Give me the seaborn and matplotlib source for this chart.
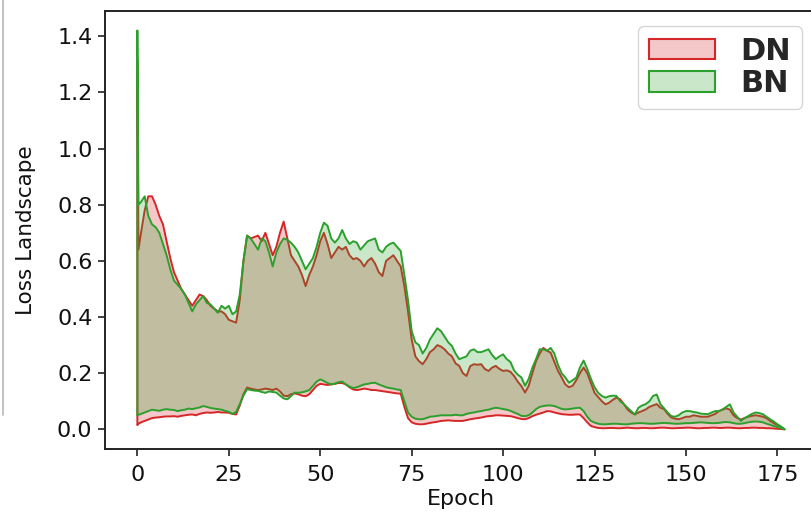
import numpy as np
import pandas as pd
import matplotlib
matplotlib.use("Agg")
import matplotlib.pyplot as plt
from matplotlib.patches import Patch
from matplotlib.colors import to_rgba
from matplotlib.lines import Line2D
import seaborn as sns

# Epoch grid: the first step is short to capture the initial spike
epochs = np.concatenate([[0.0, 0.3], np.arange(1, 178)])

# DN band (upper / lower envelope of the loss landscape)
dn_hi = [1.31, 0.64,
         0.70, 0.78, 0.83, 0.83, 0.80, 0.76, 0.73, 0.67, 0.61, 0.56,
         0.53, 0.50, 0.48, 0.46, 0.44, 0.46, 0.48, 0.475, 0.46, 0.44,
         0.43, 0.42, 0.42, 0.41, 0.39, 0.385, 0.38, 0.46, 0.60, 0.69,
         0.68, 0.685, 0.69, 0.67, 0.70, 0.66, 0.62, 0.65, 0.70, 0.74,
         0.68, 0.62, 0.60, 0.58, 0.55, 0.51, 0.55, 0.58, 0.62, 0.67,
         0.70, 0.66, 0.61, 0.63, 0.65, 0.64, 0.65, 0.62, 0.606, 0.61,
         0.60, 0.58, 0.60, 0.61, 0.59, 0.56, 0.546, 0.60, 0.61, 0.62,
         0.60, 0.58, 0.51, 0.42, 0.32, 0.26, 0.243, 0.232, 0.25, 0.275,
         0.285, 0.30, 0.295, 0.285, 0.27, 0.26, 0.235, 0.226, 0.20, 0.19,
         0.225, 0.232, 0.23, 0.232, 0.215, 0.208, 0.22, 0.226, 0.215, 0.208,
         0.21, 0.205, 0.19, 0.17, 0.154, 0.131, 0.155, 0.20, 0.243, 0.27,
         0.29, 0.28, 0.273, 0.24, 0.208, 0.185, 0.16, 0.15, 0.155, 0.175,
         0.20, 0.22, 0.20, 0.165, 0.13, 0.115, 0.10, 0.089, 0.095, 0.105,
         0.113, 0.107, 0.09, 0.071, 0.06, 0.053, 0.06, 0.065, 0.071, 0.08,
         0.085, 0.09, 0.077, 0.072, 0.055, 0.042, 0.038, 0.036, 0.04, 0.045,
         0.045, 0.05, 0.048, 0.045, 0.045, 0.045, 0.05, 0.055, 0.065, 0.07,
         0.075, 0.07, 0.05, 0.04, 0.035, 0.04, 0.045, 0.048, 0.05, 0.048,
         0.045, 0.04, 0.03, 0.022, 0.015, 0.008, 0.0]
dn_lo = [0.015, 0.02,
         0.025, 0.03, 0.035, 0.04, 0.042, 0.043, 0.045, 0.046, 0.046, 0.047,
         0.045, 0.048, 0.05, 0.052, 0.053, 0.05, 0.055, 0.058, 0.06, 0.059,
         0.06, 0.062, 0.06, 0.06, 0.059, 0.055, 0.053, 0.085, 0.125, 0.149,
         0.145, 0.142, 0.14, 0.142, 0.145, 0.143, 0.14, 0.145, 0.135, 0.12,
         0.118, 0.125, 0.128, 0.125, 0.12, 0.118, 0.125, 0.14, 0.155, 0.162,
         0.16, 0.158, 0.16, 0.162, 0.165, 0.165, 0.16, 0.15, 0.142, 0.14,
         0.142, 0.145, 0.143, 0.14, 0.14, 0.138, 0.136, 0.134, 0.132, 0.13,
         0.128, 0.127, 0.08, 0.04, 0.025, 0.02, 0.018, 0.018, 0.02, 0.023,
         0.025, 0.027, 0.03, 0.031, 0.032, 0.031, 0.03, 0.03, 0.03, 0.033,
         0.036, 0.038, 0.04, 0.042, 0.045, 0.047, 0.048, 0.05, 0.05, 0.049,
         0.048, 0.047, 0.044, 0.04, 0.037, 0.036, 0.04, 0.047, 0.052, 0.056,
         0.06, 0.065, 0.064, 0.06, 0.057, 0.054, 0.053, 0.052, 0.052, 0.053,
         0.053, 0.04, 0.025, 0.012, 0.008, 0.005, 0.004, 0.004, 0.005, 0.005,
         0.004, 0.004, 0.005, 0.006, 0.005, 0.004, 0.004, 0.005, 0.005, 0.004,
         0.004, 0.005, 0.006, 0.006, 0.005, 0.004, 0.004, 0.005, 0.005, 0.006,
         0.006, 0.005, 0.004, 0.004, 0.005, 0.005, 0.006, 0.006, 0.005, 0.005,
         0.006, 0.006, 0.005, 0.004, 0.004, 0.005, 0.005, 0.006, 0.006, 0.005,
         0.005, 0.004, 0.004, 0.003, 0.002, 0.001, 0.0]

# BN band
bn_hi = [1.42, 0.80,
         0.81, 0.83, 0.76, 0.73, 0.72, 0.70, 0.66, 0.62, 0.57, 0.53,
         0.515, 0.50, 0.48, 0.45, 0.42, 0.445, 0.46, 0.475, 0.45, 0.445,
         0.43, 0.415, 0.44, 0.43, 0.44, 0.41, 0.42, 0.48, 0.60, 0.69,
         0.68, 0.66, 0.64, 0.68, 0.67, 0.63, 0.58, 0.63, 0.66, 0.68,
         0.675, 0.665, 0.65, 0.63, 0.60, 0.57, 0.59, 0.61, 0.65, 0.70,
         0.736, 0.725, 0.68, 0.665, 0.68, 0.71, 0.68, 0.66, 0.67, 0.665,
         0.64, 0.655, 0.67, 0.675, 0.68, 0.64, 0.63, 0.65, 0.66, 0.665,
         0.65, 0.635, 0.55, 0.46, 0.35, 0.31, 0.30, 0.27, 0.29, 0.32,
         0.34, 0.36, 0.35, 0.33, 0.31, 0.297, 0.27, 0.25, 0.255, 0.26,
         0.28, 0.285, 0.275, 0.275, 0.28, 0.285, 0.265, 0.25, 0.26, 0.267,
         0.25, 0.24, 0.21, 0.195, 0.185, 0.155, 0.18, 0.22, 0.25, 0.285,
         0.285, 0.28, 0.29, 0.27, 0.23, 0.20, 0.185, 0.166, 0.175, 0.184,
         0.22, 0.245, 0.215, 0.18, 0.15, 0.13, 0.119, 0.113, 0.118, 0.12,
         0.119, 0.10, 0.09, 0.077, 0.065, 0.053, 0.077, 0.085, 0.09, 0.10,
         0.119, 0.124, 0.09, 0.075, 0.06, 0.047, 0.045, 0.05, 0.06, 0.065,
         0.065, 0.062, 0.06, 0.056, 0.055, 0.054, 0.06, 0.065, 0.065, 0.071,
         0.08, 0.089, 0.06, 0.045, 0.03, 0.04, 0.047, 0.055, 0.06, 0.058,
         0.054, 0.045, 0.036, 0.028, 0.018, 0.01, 0.0]
bn_lo = [0.05, 0.052,
         0.055, 0.06, 0.065, 0.07, 0.068, 0.066, 0.07, 0.072, 0.07, 0.069,
         0.065, 0.068, 0.07, 0.074, 0.072, 0.075, 0.078, 0.083, 0.08, 0.076,
         0.074, 0.072, 0.07, 0.066, 0.062, 0.055, 0.062, 0.09, 0.12, 0.143,
         0.14, 0.138, 0.137, 0.133, 0.13, 0.135, 0.133, 0.131, 0.12, 0.11,
         0.107, 0.118, 0.131, 0.13, 0.132, 0.135, 0.14, 0.155, 0.17, 0.178,
         0.172, 0.165, 0.16, 0.163, 0.168, 0.17, 0.16, 0.152, 0.147, 0.15,
         0.155, 0.16, 0.162, 0.165, 0.166, 0.16, 0.155, 0.15, 0.147, 0.145,
         0.142, 0.14, 0.10, 0.06, 0.045, 0.038, 0.036, 0.036, 0.04, 0.045,
         0.046, 0.048, 0.05, 0.05, 0.05, 0.05, 0.052, 0.05, 0.05, 0.055,
         0.058, 0.06, 0.063, 0.065, 0.068, 0.07, 0.074, 0.077, 0.075, 0.072,
         0.07, 0.066, 0.06, 0.055, 0.048, 0.047, 0.05, 0.06, 0.072, 0.08,
         0.083, 0.085, 0.085, 0.083, 0.078, 0.073, 0.071, 0.072, 0.074, 0.076,
         0.077, 0.065, 0.045, 0.03, 0.024, 0.02, 0.018, 0.018, 0.019, 0.02,
         0.02, 0.019, 0.018, 0.018, 0.02, 0.021, 0.022, 0.022, 0.021, 0.02,
         0.02, 0.021, 0.022, 0.023, 0.022, 0.021, 0.02, 0.02, 0.021, 0.022,
         0.022, 0.023, 0.024, 0.025, 0.024, 0.023, 0.022, 0.022, 0.023, 0.025,
         0.026, 0.025, 0.022, 0.02, 0.02, 0.022, 0.025, 0.027, 0.028, 0.027,
         0.025, 0.02, 0.016, 0.012, 0.008, 0.004, 0.0]

series_labels = ["DN", "BN"]
series_colors = ["#d62728", "#2ca02c"]
x_ticks = [0, 25, 50, 75, 100, 125, 150, 175]
y_ticks = [0.0, 0.2, 0.4, 0.6, 0.8, 1.0, 1.2, 1.4]

sns.set_style("ticks")
plt.rcParams["font.family"] = ["DejaVu Sans"]

fig = plt.figure(figsize=(8.12, 5.12), dpi=100)
ax = fig.add_axes([0.1293, 0.1225, 0.877, 0.8566])

bands = [(dn_lo, dn_hi), (bn_lo, bn_hi)]
z = 1.0
handles = []
for (lo, hi), label, color in zip(bands, series_labels, series_colors):
    lo = np.asarray(lo)
    hi = np.asarray(hi)
    ax.fill_between(epochs, lo, hi, facecolor=to_rgba(color, 0.25),
                    linewidth=0, zorder=z)
    # closed outline of the band
    outline = pd.DataFrame({
        "epoch": np.concatenate([epochs, epochs[::-1], epochs[:1]]),
        "loss": np.concatenate([hi, lo[::-1], hi[:1]]),
    })
    sns.lineplot(data=outline, x="epoch", y="loss", sort=False,
                 estimator=None, color=color, linewidth=1.4, ax=ax,
                 zorder=z + 0.1)
    handles.append(Patch(facecolor=to_rgba(color, 0.25), edgecolor=color,
                         linewidth=1.5, label=label))
    z += 0.2

ax.margins(x=0.05, y=0.05)
ax.set_xticks(x_ticks)
ax.set_yticks(y_ticks)
ax.set_yticklabels([f"{v:.1f}" for v in y_ticks])
ax.tick_params(axis="both", labelsize=16, length=5, width=1.2,
               color="#222222", labelcolor="#111111")
ax.tick_params(axis="x", pad=6)
ax.tick_params(axis="y", pad=4)
for sp in ax.spines.values():
    sp.set_linewidth(1.4)
    sp.set_color("#222222")

ax.set_xlabel("Epoch", fontsize=16, labelpad=3, color="#111111")
ax.set_ylabel("Loss Landscape", fontsize=15.5, labelpad=15, color="#111111")

leg = ax.legend(handles=handles, loc="upper right",
                prop={"weight": "bold", "size": 22},
                handlelength=2.15, handleheight=0.65, handletextpad=0.85,
                labelspacing=0.12, borderpad=0.35, borderaxespad=0.5,
                frameon=True, fancybox=True, framealpha=0.8, edgecolor="#cccccc")

# thin page-edge rule on the left
fig.add_artist(Line2D([0.004, 0.004], [0.19, 1.0], transform=fig.transFigure,
                      color="#b8b8b8", linewidth=1.2))

fig.savefig("out.png", dpi=100)
